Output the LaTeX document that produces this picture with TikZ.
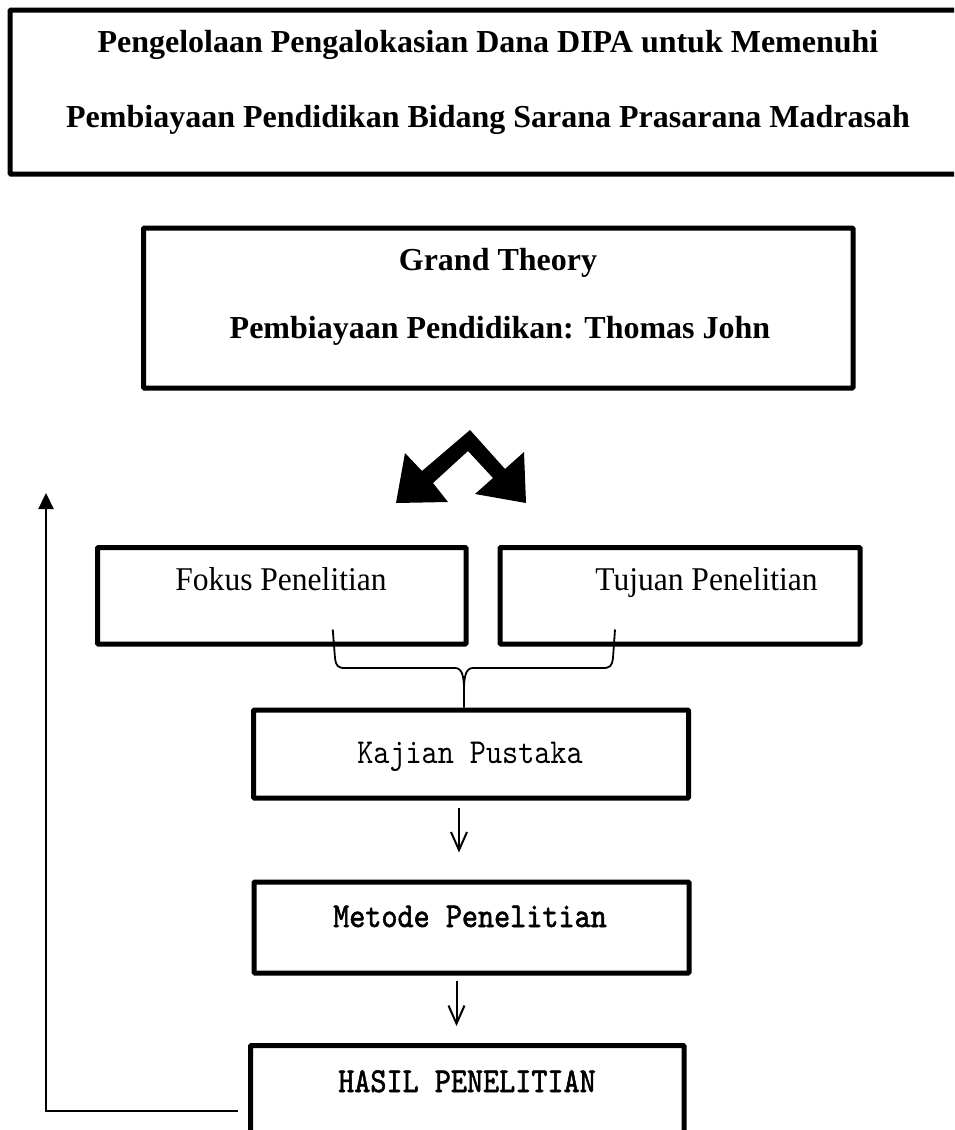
\documentclass[tikz,border=0pt]{standalone}
\usepackage{fontspec}
\setmainfont{Liberation Serif}
\newfontfamily\tallserif[FakeStretch=0.95]{Liberation Serif}
\newfontfamily\narrowmono[Extension=.otf,FakeStretch=0.876]{lmmono10-regular}
\newfontfamily\narrowmonobold[Extension=.otf,FakeStretch=0.876,FakeBold=1.6]{lmmono10-regular}
\usetikzlibrary{arrows.meta}

\begin{document}
\begin{tikzpicture}[x=1pt,y=-1pt,
  frame/.style={draw,line width=5pt,inner sep=0pt,rectangle,rounded corners=1pt},
  headtext/.style={anchor=base,inner sep=0pt,font=\fontsize{32}{36}\selectfont\bfseries},
  plaintext/.style={anchor=base,inner sep=0pt,font=\fontsize{33.2}{38}\selectfont\tallserif},
  monolight/.style={anchor=base,inner sep=0pt,font=\fontsize{35}{40}\selectfont\narrowmono},
  monoheavy/.style={anchor=base,inner sep=0pt,font=\fontsize{35}{40}\selectfont\narrowmonobold},
  flow/.style={line width=2pt,-{Straight Barb[length=18pt,width=16pt]}},
  feedback/.style={line width=2.2pt,-{Triangle[length=16pt,width=15pt]}},
  brace/.style={line width=1.8pt}]
\useasboundingbox (0,0) rectangle (954,1130);
\clip (0,0) rectangle (954,1130);

% title box (runs past the right edge)
\node[frame,minimum width=955pt,minimum height=164pt] (title) at (487.5,92) {};
\node[headtext] (t1) at (488,52) {Pengelolaan Pengalokasian Dana DIPA untuk Memenuhi};
\node[headtext] (t2) at (488,127) {Pembiayaan Pendidikan Bidang Sarana Prasarana Madrasah};

% grand theory box
\node[frame,minimum width=709.5pt,minimum height=160pt] (grand) at (498.25,308) {};
\node[headtext] (g1) at (498,270) {Grand Theory};
\node[headtext] (g2) at (500,338) {Pembiayaan Pendidikan: Thomas John};

% double bent arrow below the theory box
\fill (396,503) -- (448,502) -- (433,483) -- (468,451) -- (493,478) -- (475,494)
  -- (526,503) -- (524,452) -- (505,469) -- (470,430) -- (422,471) -- (405,453) -- cycle;

% focus and aim boxes
\node[frame,minimum width=368.5pt,minimum height=96.5pt] (fokus) at (281.75,595.75) {};
\node[plaintext] (fokustxt) at (281,590) {Fokus Penelitian};
\node[frame,minimum width=360pt,minimum height=96.5pt] (tujuan) at (680,595.75) {};
\node[plaintext] (tujuantxt) at (706.5,590) {Tujuan Penelitian};

% literature review box
\node[frame,minimum width=435pt,minimum height=88pt] (kajian) at (471,754) {};
\node[monolight] (kajiantxt) at (470,763) {Kajian Pustaka};

% method box
\node[frame,minimum width=435pt,minimum height=91pt] (metode) at (471.5,927.5) {};
\node[monoheavy] (metodetxt) at (470,927) {Metode Penelitian};

% results box (runs past the bottom edge)
\node[frame,minimum width=433.5pt,minimum height=114.5pt] (hasil) at (467.25,1102.75) {};
\node[monoheavy] (hasiltxt) at (467,1092) {HASIL PENELITIAN};

% bracket joining the two upper boxes into the review box
\coordinate (bl) at ([xshift=51pt,yshift=17pt]fokus.south);
\coordinate (br) at ([xshift=-65pt,yshift=17pt]tujuan.south);
\coordinate (bm) at ([xshift=-7pt]kajian.north);
\draw[brace] (bl) -- (335,658) .. controls (336,666) and (338,668) .. (345,668)
  -- (455,668) .. controls (462,668) and (464,676) .. (464,690) -- (bm);
\draw[brace] (br) -- (613,658) .. controls (612,666) and (610,668) .. (603,668)
  -- (473,668) .. controls (466,668) and (464,676) .. (464,690);

% flow arrows
\draw[flow] ([xshift=-12pt,yshift=-7pt]kajian.south) -- ([xshift=-12pt,yshift=27pt]kajian.south |- metode.north);
\draw[flow] ([xshift=-15pt,yshift=-5pt]metode.south) -- ([xshift=-15pt,yshift=17pt]metode.south |- hasil.north);

% feedback line back to the top
\coordinate (fbstart) at ([xshift=-10pt]hasil.west |- 0,1111);
\coordinate (fbend) at (46,493);
\draw[feedback] (fbstart) -| (fbend);
\end{tikzpicture}
\end{document}
